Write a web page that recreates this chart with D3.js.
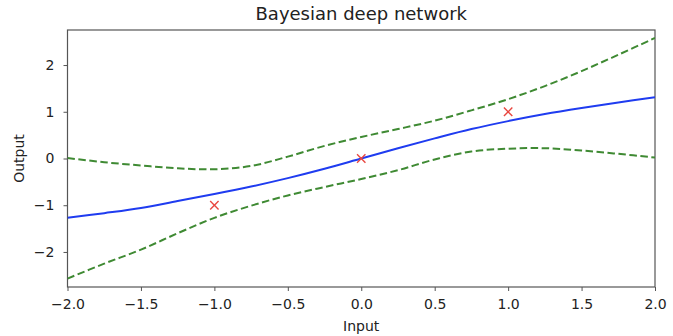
<!DOCTYPE html>
<html>
<head>
<meta charset="utf-8">
<script src="https://cdn.jsdelivr.net/npm/d3@7"></script>
<style>
  html, body { margin: 0; padding: 0; background: #fff; }
  svg { display: block; font-family: "DejaVu Sans", sans-serif; }
</style>
</head>
<body>
<svg id="chart" width="673" height="336"></svg>
<script>
// ---- data ----
const xs        = [-2, -1.75, -1.5, -1.25, -1, -0.75, -0.5, -0.25, 0, 0.25, 0.5, 0.75, 1, 1.25, 1.5, 1.75, 2];
const meanY     = [-1.27, -1.17, -1.06, -0.91, -0.76, -0.60, -0.42, -0.22, 0, 0.22, 0.43, 0.63, 0.80, 0.95, 1.08, 1.20, 1.31];
const upperY    = [0.01, -0.08, -0.15, -0.21, -0.23, -0.16, 0.04, 0.27, 0.46, 0.63, 0.81, 1.03, 1.27, 1.55, 1.87, 2.22, 2.58];
const lowerY    = [-2.57, -2.25, -1.95, -1.60, -1.27, -1.01, -0.79, -0.61, -0.44, -0.25, -0.02, 0.15, 0.21, 0.22, 0.17, 0.10, 0.02];
const obsX      = [-1, 0, 1];
const obsY      = [-1, 0, 1];
const xTicks    = [-2.0, -1.5, -1.0, -0.5, 0.0, 0.5, 1.0, 1.5, 2.0];
const yTicks    = [-2, -1, 0, 1, 2];
const titleText = "Bayesian deep network";
const xLabel    = "Input";
const yLabel    = "Output";

// ---- layout ----
const W = 673, H = 336;
const m = { left: 67.5, right: 655, top: 30, bottom: 287 };
const svg = d3.select("#chart");

const x = d3.scaleLinear().domain([-2, 2]).range([m.left, m.right]);
const y = d3.scaleLinear().domain([-2.75, 2.75]).range([m.bottom, m.top]);

const fmtMinus = s => s.replace("-", "\u2212");

svg.append("defs").append("clipPath").attr("id", "clip")
  .append("rect").attr("x", m.left).attr("y", m.top)
  .attr("width", m.right - m.left).attr("height", m.bottom - m.top);

// axes
const xAxis = svg.append("g").attr("transform", `translate(0,${m.bottom})`)
  .call(d3.axisBottom(x).tickValues(xTicks).tickSize(4).tickPadding(8)
        .tickFormat(d => fmtMinus(d3.format(".1f")(d))));
const yAxis = svg.append("g").attr("transform", `translate(${m.left},0)`)
  .call(d3.axisLeft(y).tickValues(yTicks).tickSize(4).tickPadding(9)
        .tickFormat(d => fmtMinus(d3.format("d")(d))));
[xAxis, yAxis].forEach(g => {
  g.select(".domain").remove();
  g.selectAll(".tick line").attr("stroke", "#555").attr("stroke-width", 1);
  g.selectAll(".tick text").attr("fill", "#222").style("font-size", "14px")
    .style("font-family", "DejaVu Sans");
});

// frame
svg.append("rect").attr("x", m.left).attr("y", m.top)
  .attr("width", m.right - m.left).attr("height", m.bottom - m.top)
  .attr("fill", "none").attr("stroke", "#555").attr("stroke-width", 1.2);

const plot = svg.append("g").attr("clip-path", "url(#clip)");
const line = d3.line().x(d => x(d[0])).y(d => y(d[1])).curve(d3.curveCatmullRom.alpha(0.5));

plot.append("path").datum(xs.map((v, i) => [v, upperY[i]]))
  .attr("d", line).attr("fill", "none").attr("stroke", "#3f8a33")
  .attr("stroke-width", 2).attr("stroke-dasharray", "7.5,3.5");
plot.append("path").datum(xs.map((v, i) => [v, lowerY[i]]))
  .attr("d", line).attr("fill", "none").attr("stroke", "#3f8a33")
  .attr("stroke-width", 2).attr("stroke-dasharray", "7.5,3.5");
plot.append("path").datum(xs.map((v, i) => [v, meanY[i]]))
  .attr("d", line).attr("fill", "none").attr("stroke", "#1f3cf0")
  .attr("stroke-width", 2);

// observation markers
const ms = 4.2;
const mk = svg.append("g").selectAll("g").data(obsX.map((v, i) => [v, obsY[i]]))
  .join("g").attr("transform", d => `translate(${x(d[0])},${y(d[1])})`);
mk.append("line").attr("x1", -ms).attr("y1", -ms).attr("x2", ms).attr("y2", ms);
mk.append("line").attr("x1", -ms).attr("y1", ms).attr("x2", ms).attr("y2", -ms);
mk.selectAll("line").attr("stroke", "#e8463f").attr("stroke-width", 1.4);

// titles
svg.append("text").attr("x", (m.left + m.right) / 2).attr("y", 20)
  .attr("text-anchor", "middle").attr("fill", "#222")
  .style("font-size", "18px").text(titleText);
svg.append("text").attr("x", (m.left + m.right) / 2).attr("y", 331)
  .attr("text-anchor", "middle").attr("fill", "#222")
  .style("font-size", "14px").text(xLabel);
svg.append("text").attr("transform", `translate(24,${(m.top + m.bottom) / 2}) rotate(-90)`)
  .attr("text-anchor", "middle").attr("fill", "#222")
  .style("font-size", "14px").text(yLabel);
</script>
</body>
</html>
